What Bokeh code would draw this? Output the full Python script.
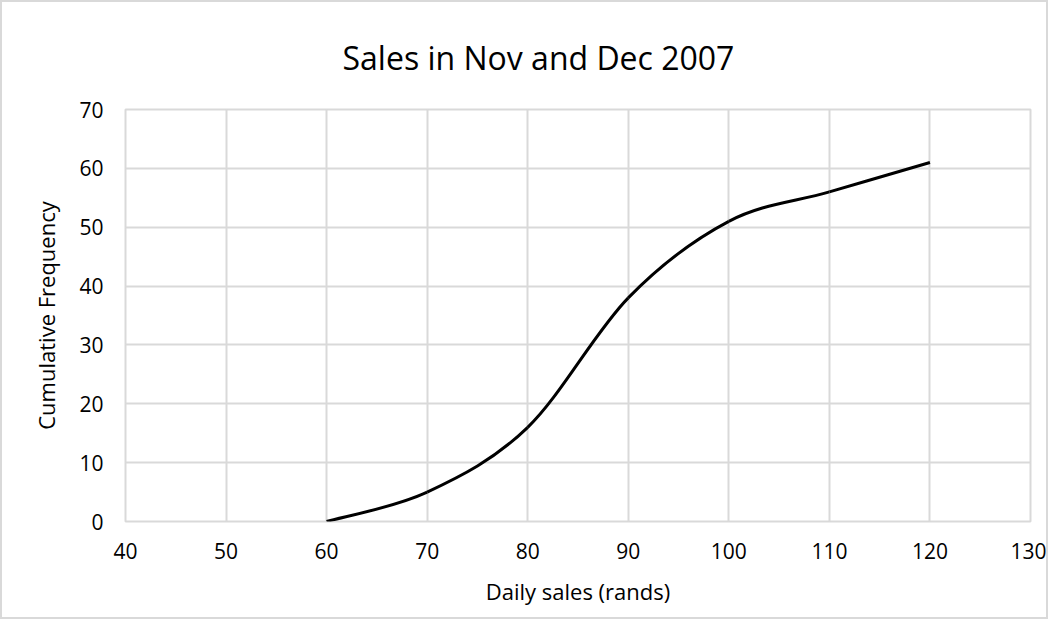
from bokeh.plotting import figure
from bokeh.models import FixedTicker, Range1d, ColumnDataSource
from bokeh.embed import file_html
from bokeh.resources import INLINE

# Data
daily_sales = [60, 70, 80, 90, 100, 110, 120]
cum_freq = [0, 5, 16, 38, 51, 56, 61]
x_ticks = [40, 50, 60, 70, 80, 90, 100, 110, 120, 130]
y_ticks = [0, 10, 20, 30, 40, 50, 60, 70]

FONT = "Open Sans"
GRID = "#d9d9d9"

p = figure(width=1048, height=619, output_backend="svg", toolbar_location=None,
           x_range=Range1d(40, 130), y_range=Range1d(0, 70),
           title="Sales in Nov and Dec 2007",
           min_border_left=123, min_border_right=20, min_border_top=107, min_border_bottom=100)

p.title.align = "left"
p.title.text_font = FONT
p.title.text_font_size = "32px"
p.title.text_font_style = "normal"
p.title.text_color = "#000000"
p.title.offset = 217
p.title.standoff = 61

p.outline_line_color = GRID
p.outline_line_width = 2
p.background_fill_color = "white"
p.border_fill_color = "white"

p.xaxis.ticker = FixedTicker(ticks=x_ticks)
p.yaxis.ticker = FixedTicker(ticks=y_ticks)
for ax in (p.xaxis, p.yaxis):
    ax.axis_line_color = None
    ax.major_tick_line_color = None
    ax.minor_tick_line_color = None
    ax.major_tick_out = 0
    ax.major_tick_in = 0
    ax.major_label_text_font = FONT
    ax.major_label_text_font_size = "21px"
    ax.major_label_text_color = "#000000"
    ax.axis_label_text_font = FONT
    ax.axis_label_text_font_size = "22px"
    ax.axis_label_text_font_style = "normal"
    ax.axis_label_text_color = "#000000"

p.xaxis.axis_label = "Daily sales (rands)"
p.yaxis.axis_label = "Cumulative Frequency"
p.xaxis.major_label_standoff = 21
p.yaxis.major_label_standoff = 22
p.xaxis.axis_label_standoff = 14
p.yaxis.axis_label_standoff = 15

p.xgrid.grid_line_color = GRID
p.ygrid.grid_line_color = GRID
p.xgrid.grid_line_width = 2
p.ygrid.grid_line_width = 2

# Smooth line (Catmull-Rom style Bezier segments, as in Excel smoothed lines)
n = len(daily_sales)
pts = list(zip(daily_sales, cum_freq))
x0, y0, x1, y1, cx0, cy0, cx1, cy1 = [], [], [], [], [], [], [], []
for i in range(n - 1):
    pm = pts[max(i - 1, 0)]
    pa = pts[i]
    pb = pts[i + 1]
    pn = pts[min(i + 2, n - 1)]
    x0.append(pa[0]); y0.append(pa[1])
    x1.append(pb[0]); y1.append(pb[1])
    cx0.append(pa[0] + (pb[0] - pm[0]) / 6.0)
    cy0.append(pa[1] + (pb[1] - pm[1]) / 6.0)
    cx1.append(pb[0] - (pn[0] - pa[0]) / 6.0)
    cy1.append(pb[1] - (pn[1] - pa[1]) / 6.0)

src = ColumnDataSource(dict(x0=x0, y0=y0, x1=x1, y1=y1, cx0=cx0, cy0=cy0, cx1=cx1, cy1=cy1))
p.bezier(x0="x0", y0="y0", x1="x1", y1="y1", cx0="cx0", cy0="cy0", cx1="cx1", cy1="cy1",
         source=src, line_color="black", line_width=3)

p.styles = {"border": "2px solid #d9d9d9", "box-sizing": "border-box"}

open("out.html", "w").write(file_html(p, INLINE))
